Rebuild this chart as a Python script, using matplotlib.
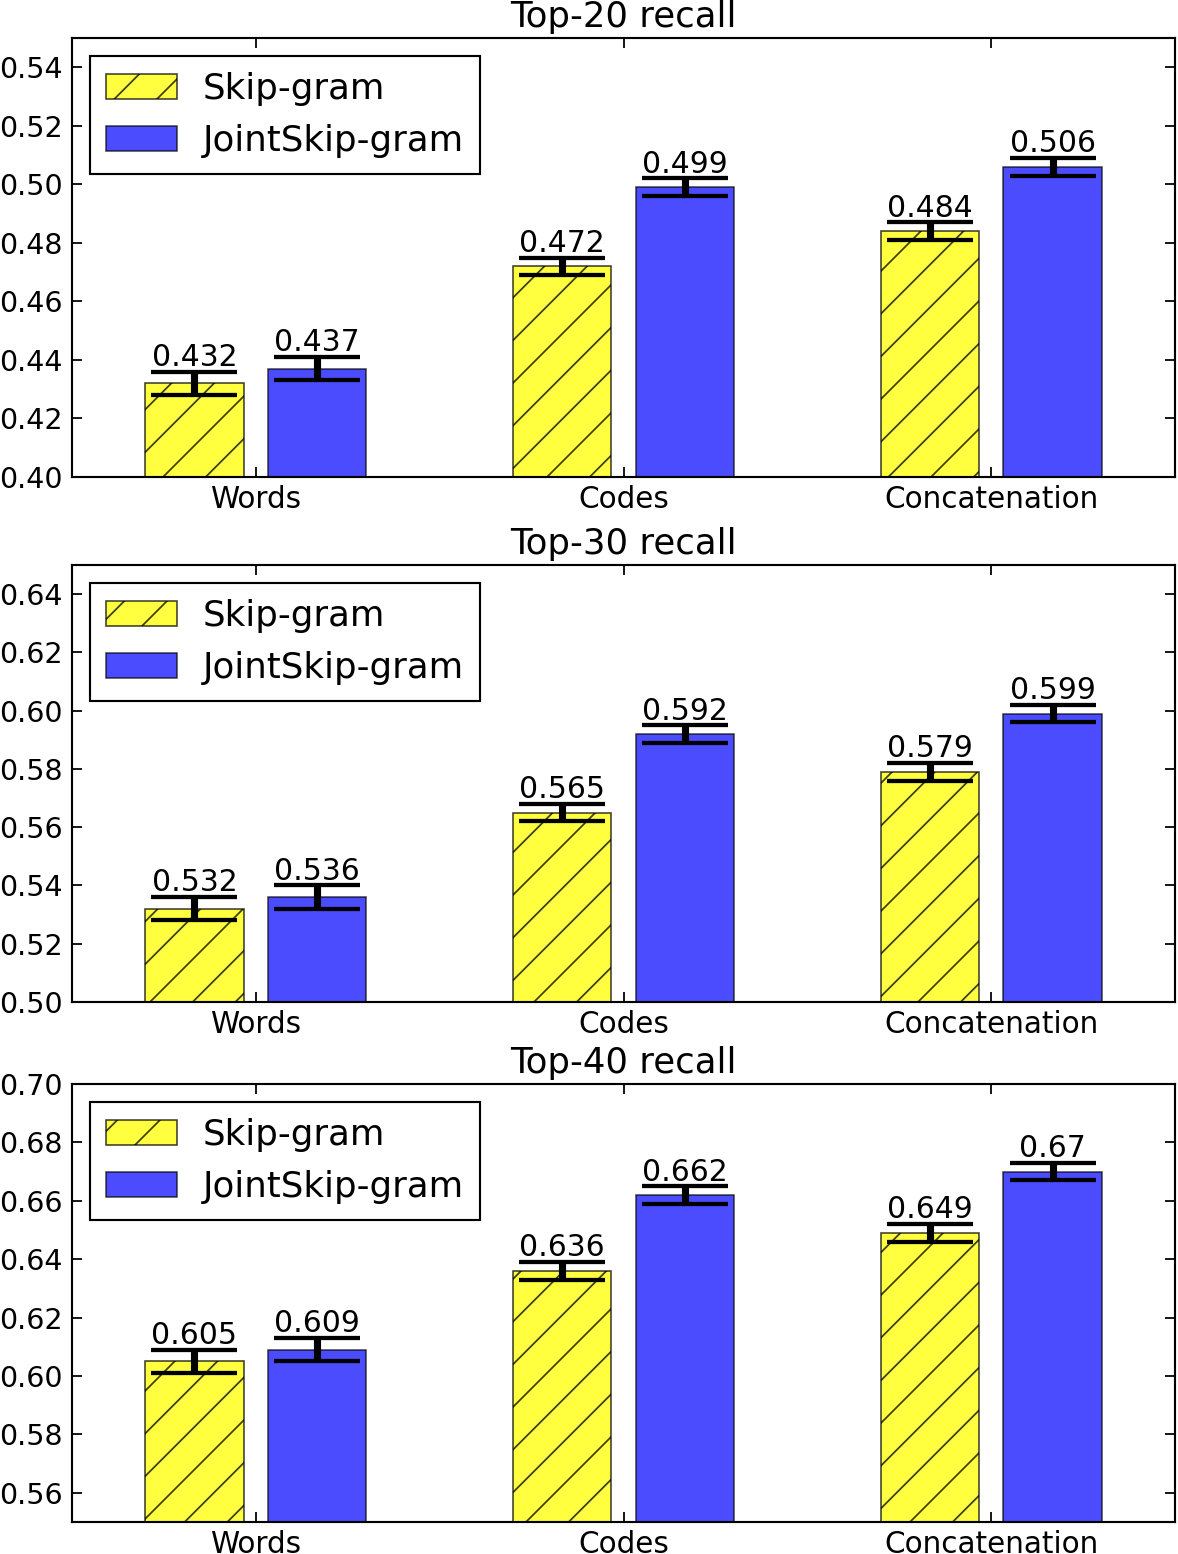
import matplotlib
matplotlib.use("Agg")
import matplotlib.pyplot as plt
import numpy as np

categories = ["Words", "Codes", "Concatenation"]
series_names = ["Skip-gram", "JointSkip-gram"]
titles = ["Top-20 recall", "Top-30 recall", "Top-40 recall"]

skip_top20 = [0.432, 0.472, 0.484]
joint_top20 = [0.437, 0.499, 0.506]
skip_err20 = [0.004, 0.003, 0.003]
joint_err20 = [0.004, 0.003, 0.003]

skip_top30 = [0.532, 0.565, 0.579]
joint_top30 = [0.536, 0.592, 0.599]
skip_err30 = [0.004, 0.003, 0.003]
joint_err30 = [0.004, 0.003, 0.003]

skip_top40 = [0.605, 0.636, 0.649]
joint_top40 = [0.609, 0.662, 0.670]
skip_err40 = [0.004, 0.003, 0.003]
joint_err40 = [0.004, 0.003, 0.003]

ylims = [(0.40, 0.55), (0.50, 0.65), (0.55, 0.70)]
yticks = [np.arange(0.40, 0.541, 0.02), np.arange(0.50, 0.641, 0.02), np.arange(0.56, 0.701, 0.02)]

panels = [
    (skip_top20, joint_top20, skip_err20, joint_err20),
    (skip_top30, joint_top30, skip_err30, joint_err30),
    (skip_top40, joint_top40, skip_err40, joint_err40),
]

DPI = 256
W, H = 1178, 1554
plt.rcParams["hatch.linewidth"] = 0.5
plt.rcParams["font.family"] = ["DejaVu Sans"]

fig = plt.figure(figsize=(W / DPI, H / DPI), dpi=DPI)

axes_px = [(38, 477), (565, 1002), (1084, 1522)]
left_px, right_px = 72, 1175

x = np.arange(len(categories))
bw = 0.267
off = 0.167

for i, ((s, j, se, je), (top, bot)) in enumerate(zip(panels, axes_px)):
    ax = fig.add_axes([left_px / W, 1 - bot / H, (right_px - left_px) / W, (bot - top) / H])
    ax.bar(x - off, s, bw, color="yellow", alpha=0.75, edgecolor="black",
           linewidth=0.45, hatch="//", label=series_names[0])
    ax.bar(x + off, j, bw, color="blue", alpha=0.7, edgecolor="black",
           linewidth=0.45, label=series_names[1])
    for xs, vals, errs in ((x - off, s, se), (x + off, j, je)):
        ax.errorbar(xs, vals, yerr=errs, fmt="none", ecolor="black",
                    elinewidth=2.0, capsize=12, capthick=1.2)
        for xx, v, e in zip(xs, vals, errs):
            lab = ("%.3f" % v).rstrip("0")
            ax.annotate(lab, (xx, v + e), xytext=(0, 1.6), textcoords="offset points",
                        ha="center", va="baseline", fontsize=8.4)
    ax.set_xlim(-0.5, 2.5)
    ax.set_ylim(*ylims[i])
    ax.set_yticks(yticks[i])
    ax.set_yticklabels(["%.2f" % t for t in yticks[i]])
    ax.set_xticks(x)
    ax.set_xticklabels(categories)
    ax.tick_params(axis="both", direction="in", top=True, right=True,
                   length=2.8, width=0.5)
    ax.tick_params(axis="y", labelsize=8, pad=2.6)
    ax.tick_params(axis="x", labelsize=8.3, pad=2.2)
    for sp in ax.spines.values():
        sp.set_linewidth(0.6)
    ax.set_title(titles[i], fontsize=10, pad=3)
    leg = ax.legend(loc="upper left", fontsize=10.0, fancybox=False, framealpha=1,
                    edgecolor="black", handlelength=2.0, handleheight=0.7,
                    handletextpad=0.72, labelspacing=0.5, borderpad=0.45)
    leg.get_frame().set_linewidth(0.6)

fig.savefig("out.png", dpi=DPI)
